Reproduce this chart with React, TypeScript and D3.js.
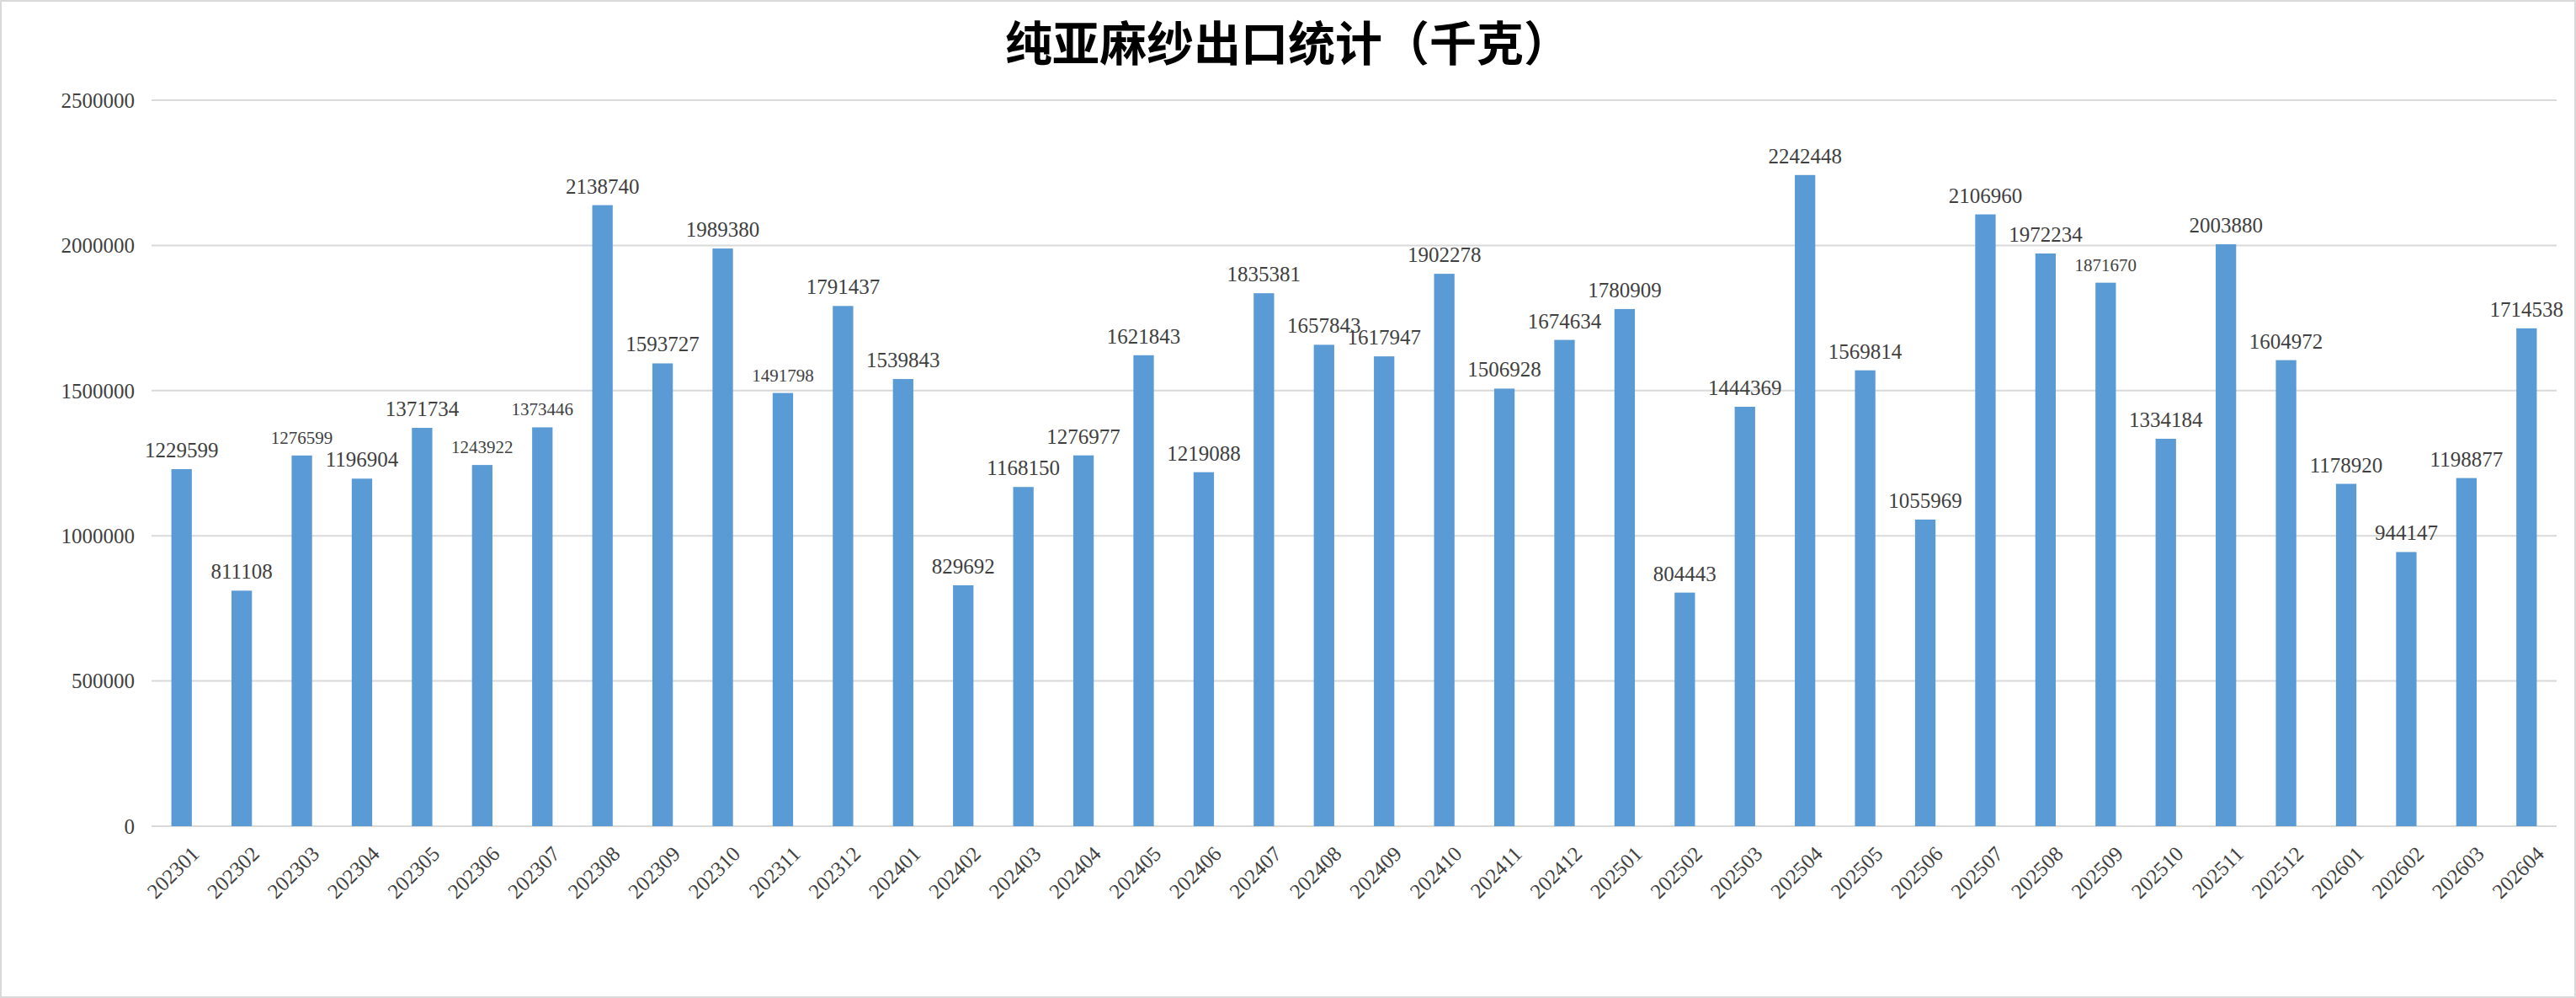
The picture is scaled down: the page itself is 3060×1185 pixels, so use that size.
import React from 'react';
import * as d3 from 'd3';

const months = [
  '202301', '202302', '202303', '202304', '202305', '202306', '202307', '202308', '202309', '202310',
  '202311', '202312', '202401', '202402', '202403', '202404', '202405', '202406', '202407', '202408',
  '202409', '202410', '202411', '202412', '202501', '202502', '202503', '202504', '202505', '202506',
  '202507', '202508', '202509', '202510', '202511', '202512', '202601', '202602', '202603', '202604',
];
const values = [
  1229599, 811108, 1276599, 1196904, 1371734, 1243922, 1373446, 2138740, 1593727, 1989380,
  1491798, 1791437, 1539843, 829692, 1168150, 1276977, 1621843, 1219088, 1835381, 1657843,
  1617947, 1902278, 1506928, 1674634, 1780909, 804443, 1444369, 2242448, 1569814, 1055969,
  2106960, 1972234, 1871670, 1334184, 2003880, 1604972, 1178920, 944147, 1198877, 1714538,
];
// labels that the source drew in a smaller font
const smallLabels = ['202303', '202306', '202307', '202311', '202509'];
const yTicks = [0, 500000, 1000000, 1500000, 2000000, 2500000];

const W = 3060;
const H = 1185;
const left = 180;
const right = 3037;
const top = 119;
const bottom = 981;
const font = '"Liberation Serif", "DejaVu Serif", serif';

export default function App() {
  const x = d3.scaleBand<string>().domain(months).range([left, right]).paddingInner(0.66).paddingOuter(0.33);
  const y = d3.scaleLinear().domain([0, 2500000]).range([bottom, top]);

  return (
    <svg width={W} height={H} style={{ position: 'absolute', left: 0, top: 0, background: '#fff' }}>
      <rect x={1} y={1} width={W - 2} height={H - 2} fill="#fff" stroke="#d9d9d9" strokeWidth={2} />
      <text x={W / 2} y={72} textAnchor="middle" fontFamily='"Noto Sans CJK SC", sans-serif'
        fontWeight="bold" fontSize={56} fill="#000">纯亚麻纱出口统计（千克）</text>

      {yTicks.map((t) => (
        <g key={t}>
          <line x1={left} x2={right} y1={y(t)} y2={y(t)} stroke="#d9d9d9" strokeWidth={2} />
          <text x={left - 20} y={y(t)} dy="0.35em" textAnchor="end" fontFamily={font}
            fontSize={25} fill="#404040">{t}</text>
        </g>
      ))}

      {months.map((m, i) => {
        const cx = (x(m) as number) + x.bandwidth() / 2;
        const v = values[i];
        const small = smallLabels.includes(m);
        return (
          <g key={m}>
            <rect x={x(m)} y={y(v)} width={x.bandwidth()} height={bottom - y(v)} fill="#5b9bd5" />
            <text x={cx} y={y(v) - 14} textAnchor="middle" fontFamily={font}
              fontSize={small ? 21 : 25} fill="#404040">{v}</text>
            <text transform={`translate(${cx + 10},${bottom + 22}) rotate(-45)`} textAnchor="end"
              dy="0.7em" fontFamily={font} fontSize={25} fill="#404040">{m}</text>
          </g>
        );
      })}
    </svg>
  );
}
